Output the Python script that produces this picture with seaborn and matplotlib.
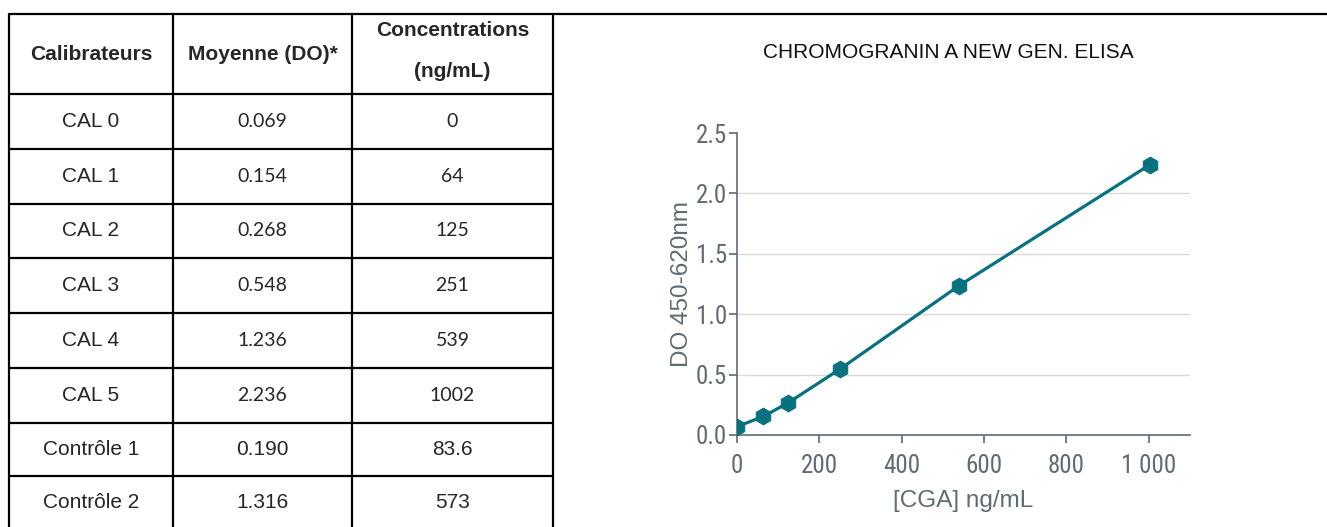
import numpy as np
import pandas as pd
import seaborn as sns
import matplotlib.pyplot as plt

# Table data
calibrateurs = ['CAL 0', 'CAL 1', 'CAL 2', 'CAL 3', 'CAL 4', 'CAL 5', 'Contrôle 1', 'Contrôle 2']
moyenne_do = ['0.069', '0.154', '0.268', '0.548', '1.236', '2.236', '0.190', '1.316']
concentrations = ['0', '64', '125', '251', '539', '1002', '83.6', '573']
headers = ['Calibrateurs', 'Moyenne (DO)*', 'Concentrations\n(ng/mL)']

# Standard curve points (calibrators only)
cal_conc = [0, 64, 125, 251, 539, 1002]
cal_do = [0.069, 0.154, 0.268, 0.548, 1.236, 2.236]

x_ticks = [0, 200, 400, 600, 800, 1000]
x_ticklabels = ['0', '200', '400', '600', '800', '1 000']
y_ticks = [0.0, 0.5, 1.0, 1.5, 2.0, 2.5]

TEAL = '#08717f'
GREY = '#5f6b72'
NARROW = ['Liberation Sans Narrow', 'Roboto Condensed', 'Liberation Sans', 'DejaVu Sans']

sns.set_theme(style="white")
plt.rcParams['font.family'] = ['Liberation Sans', 'DejaVu Sans']

W, H = 1327, 527
fig = plt.figure(figsize=(W / 100, H / 100), dpi=100)

# ---- table drawn in pixel coordinates ----
tab = fig.add_axes([0, 0, 1, 1])
tab.set_xlim(0, W)
tab.set_ylim(H, 0)
tab.axis('off')

col_edges = [9, 173, 352, 553]
row_edges = [14, 94, 149, 204, 258, 313, 368, 423, 476, 531]
lw = 1.6

tab.plot([9, W], [14, 14], color='black', lw=lw, solid_capstyle='butt')
for y in row_edges[1:-1]:
    tab.plot([col_edges[0], col_edges[-1]], [y, y], color='black', lw=lw)
for x in col_edges:
    tab.plot([x, x], [14, H], color='black', lw=lw)

centers = [(col_edges[i] + col_edges[i + 1]) / 2 for i in range(3)]
hy = (row_edges[0] + row_edges[1]) / 2
for cx, h in zip(centers, headers):
    y = hy - 3 if '\n' in h else hy + 1
    tab.text(cx, y, h, ha='center', va='center', fontsize=15,
             fontweight='bold', linespacing=2.45)

for i, (c, m, k) in enumerate(zip(calibrateurs, moyenne_do, concentrations)):
    cy = (row_edges[i + 1] + row_edges[i + 2]) / 2
    if i == len(calibrateurs) - 1:
        cy = 503
    if c.startswith('CAL'):
        num_font, num_size = ['Lato', 'DejaVu Sans'], 14
    else:
        num_font, num_size = ['Liberation Sans', 'DejaVu Sans'], 15
    tab.text(centers[0], cy, c, ha='center', va='center', fontsize=15)
    tab.text(centers[1], cy, m, ha='center', va='center', fontsize=num_size, family=num_font)
    tab.text(centers[2], cy, k, ha='center', va='center', fontsize=num_size, family=num_font)

tab.text(948, 52, 'CHROMOGRANIN A NEW GEN. ELISA', ha='center', va='center',
         fontsize=15, color='#111111', family=['Liberation Sans', 'DejaVu Sans'])

# ---- standard curve ----
ax = fig.add_axes([737 / W, 1 - 435 / H, (1190 - 737) / W, (435 - 133) / H])
df = pd.DataFrame({'conc': cal_conc, 'do': cal_do})
sns.lineplot(data=df, x='conc', y='do', ax=ax, color=TEAL, lw=2.3,
             marker='h', markersize=12, markeredgecolor=TEAL, zorder=3)

ax.set_xlim(0, 1100)
ax.set_ylim(0, 2.5)
ax.set_xticks(x_ticks)
ax.set_xticklabels(x_ticklabels)
ax.set_yticks(y_ticks)
ax.set_yticklabels([f'{v:.1f}' for v in y_ticks])

ax.yaxis.grid(True, color='#dadada', lw=1)
ax.set_axisbelow(True)
ax.yaxis.get_gridlines()[-1].set_visible(False)

for side in ['top', 'right']:
    ax.spines[side].set_visible(False)
for side in ['left', 'bottom']:
    ax.spines[side].set_color(GREY)
    ax.spines[side].set_linewidth(1.2)

ax.tick_params(axis='both', which='major', direction='out', length=6, width=1.2,
               color=GREY, labelcolor=GREY, labelsize=18, left=True, bottom=True)
ax.tick_params(axis='x', pad=8)
ax.tick_params(axis='y', pad=1)
for lab in ax.get_xticklabels() + ax.get_yticklabels():
    lab.set_family(NARROW)

ax.set_xlabel('[CGA] ng/mL', fontsize=17.5, color=GREY, labelpad=8)
ax.set_ylabel('DO 450-620nm', fontsize=17.5, color=GREY, labelpad=2)

fig.savefig('out.png', dpi=100)
